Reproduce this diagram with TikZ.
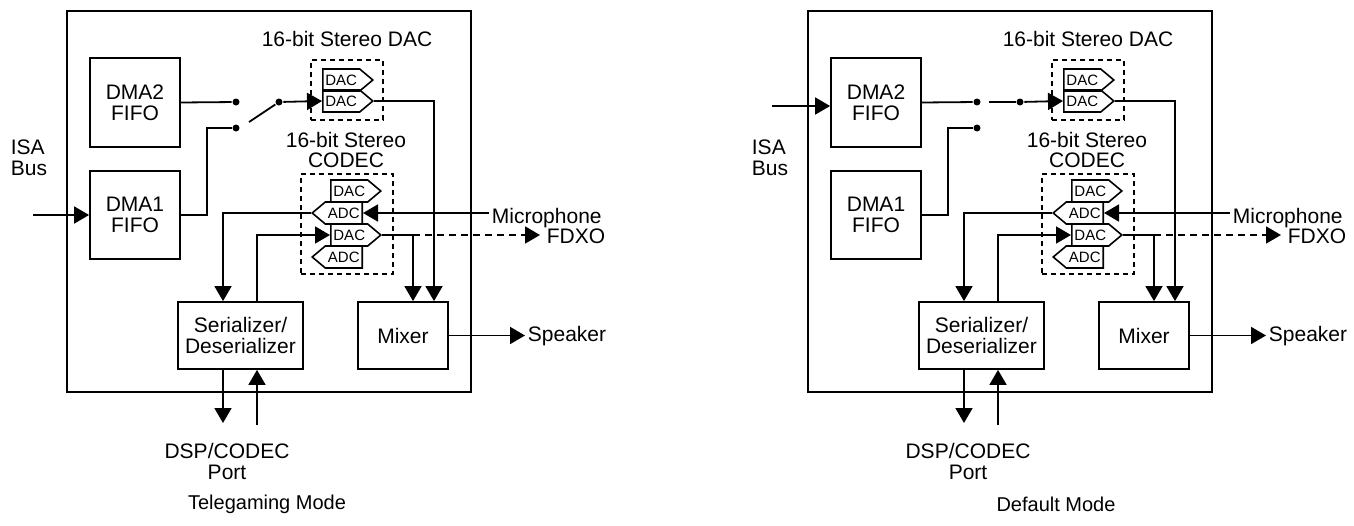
\documentclass[tikz,border=0pt]{standalone}
\usepackage{fontspec}
\setmainfont{Liberation Sans}
\usepackage{tikz}
\usetikzlibrary{arrows.meta,shapes.symbols,calc}

\newcommand{\blkfont}{\fontsize{21}{21}\selectfont}
\newcommand{\cvfont}{\fontsize{15}{15}\selectfont}
\newcommand{\modefont}{\fontsize{20}{20}\selectfont}

\tikzset{
  blk/.style={draw, align=center, font=\blkfont, inner sep=0pt},
  lbl/.style={align=center, font=\blkfont, inner sep=0pt},
  dashbox/.style={draw, line width=1.6pt, dash pattern=on 5pt off 4pt},
  conv/.style={draw, line width=1.6pt, shape=signal, signal pointer angle=80,
    minimum width=50pt, minimum height=22pt, inner sep=0pt, font=\cvfont},
  dac/.style={conv, signal to=east, signal from=nowhere},
  adc/.style={conv, signal to=west, signal from=nowhere},
  dot/.style={circle, fill, inner sep=0pt, minimum size=7pt},
  arr/.style={-{Triangle[length=15pt,width=17pt]}},
}

\begin{document}
\begin{tikzpicture}[x=1pt, y=-1pt, line width=1.8pt]
\useasboundingbox (0,0) rectangle (1354,525);
\foreach \ox/\pn in {0/L,741/R}{
  \begin{scope}[xshift=\ox pt]
    % chip outline
    \node[draw, minimum width=404pt, minimum height=381pt] (chip\pn) at (269,201.5) {};
    \node[blk, minimum width=90pt, minimum height=89pt] (dmab\pn) at (135,102.5) {DMA2\\FIFO};
    \node[blk, minimum width=90pt, minimum height=88pt] (dmaa\pn) at (135,215) {DMA1\\FIFO};
    \node[lbl, align=left, anchor=west] (isa\pn) at (10,158) {ISA\\Bus};
    \node[dot] (swa\pn) at (236,102) {};
    \node[dot] (swb\pn) at (236,128) {};
    \node[dot] (swc\pn) at (279,102) {};
    % stereo DAC
    \node[dashbox, minimum width=72pt, minimum height=60pt] (dacbox\pn) at (347,90) {};
    \node[lbl, anchor=base] (daclbl\pn) at (347,46) {16-bit Stereo DAC};
    \node[dac, anchor=west] (dacu\pn) at (322,80) {DAC};
    \node[dac, anchor=west] (dacd\pn) at (322,101) {DAC};
    % codec
    \node[dashbox, minimum width=92pt, minimum height=100pt] (codbox\pn) at (347,224) {};
    \node[lbl, anchor=south] (codlbl\pn) at (346,169) {16-bit Stereo\\[-1pt]CODEC};
    \node[dac, anchor=west] (cdaca\pn) at (330,191) {DAC};
    \node[adc, anchor=east] (cadca\pn) at (363,213) {ADC};
    \node[dac, anchor=west] (cdacb\pn) at (330,235) {DAC};
    \node[adc, anchor=east] (cadcb\pn) at (363,257) {ADC};
    % lower blocks
    \node[blk, minimum width=125pt, minimum height=67pt] (ser\pn) at (240.5,335.5) {Serializer/\\Deserializer};
    \node[blk, minimum width=90pt, minimum height=67pt] (mix\pn) at (403,335.5) {Mixer};
    % outside labels
    \node[lbl, anchor=base west, inner xsep=2pt] (mic\pn) at (489,223) {Microphone};
    \node[lbl, anchor=base west, inner xsep=6pt] (fdxo\pn) at (540,243) {FDXO};
    \node[lbl, anchor=base west, inner xsep=2pt] (spk\pn) at (525,341.5) {Speaker};
    \node[lbl, anchor=north] (port\pn) at (227,442) {DSP/CODEC\\Port};
    \coordinate (pout\pn) at (223,423);
    \coordinate (pin\pn) at (257,425);
    % connectors
    \draw (dmab\pn.east) -- (swa\pn);
    \draw (dmaa\pn.east) -- ++(26,0) |- (swb\pn);
    \draw[arr] (swc\pn) -- (dacd\pn.west);
    \draw[arr] (dacd\pn.east) -| ([xshift=31pt]mix\pn.north);
    \draw[arr] (cdacb\pn.east) -| ([xshift=10pt]mix\pn.north);
    \draw[arr, dash pattern=on 7pt off 5pt] ([xshift=10pt]mix\pn.north |- cdacb\pn.east) -- (fdxo\pn.west |- cdacb\pn.east);
    \draw[arr] (mic\pn.west |- cadca\pn.east) -- (cadca\pn.east);
    \draw[arr] (cadca\pn.west) -| ([xshift=-17.5pt]ser\pn.north);
    \draw[arr] ([xshift=16.5pt]ser\pn.north) |- (cdacb\pn.west);
    \draw[arr] ([xshift=-17.5pt]ser\pn.south) -- (pout\pn);
    \draw[arr] (pin\pn) -- ([xshift=16.5pt]ser\pn.south);
    \draw[arr] (mix\pn.east) -- (spk\pn.west |- mix\pn.east);
  \end{scope}
}
% mode captions
\node[lbl, font=\modefont] (modeL) at (267,504) {Telegaming Mode};
\node[lbl, font=\modefont] (modeR) at (1056,504) {Default Mode};
% telegaming: ISA feeds DMA1, switch on DMA1
\coordinate (isaL) at (33,215);
\draw[arr] (isaL) -- (dmaaL.west);
\coordinate (armL) at (249,122);
\draw (armL) -- (swcL);
% default: ISA feeds DMA2, switch on DMA2
\coordinate (isaR) at (772,106);
\draw[arr] (isaR) -- (isaR -| dmabR.west);
\coordinate (armR) at (989,102);
\draw (armR) -- (swcR);
\end{tikzpicture}
\end{document}
